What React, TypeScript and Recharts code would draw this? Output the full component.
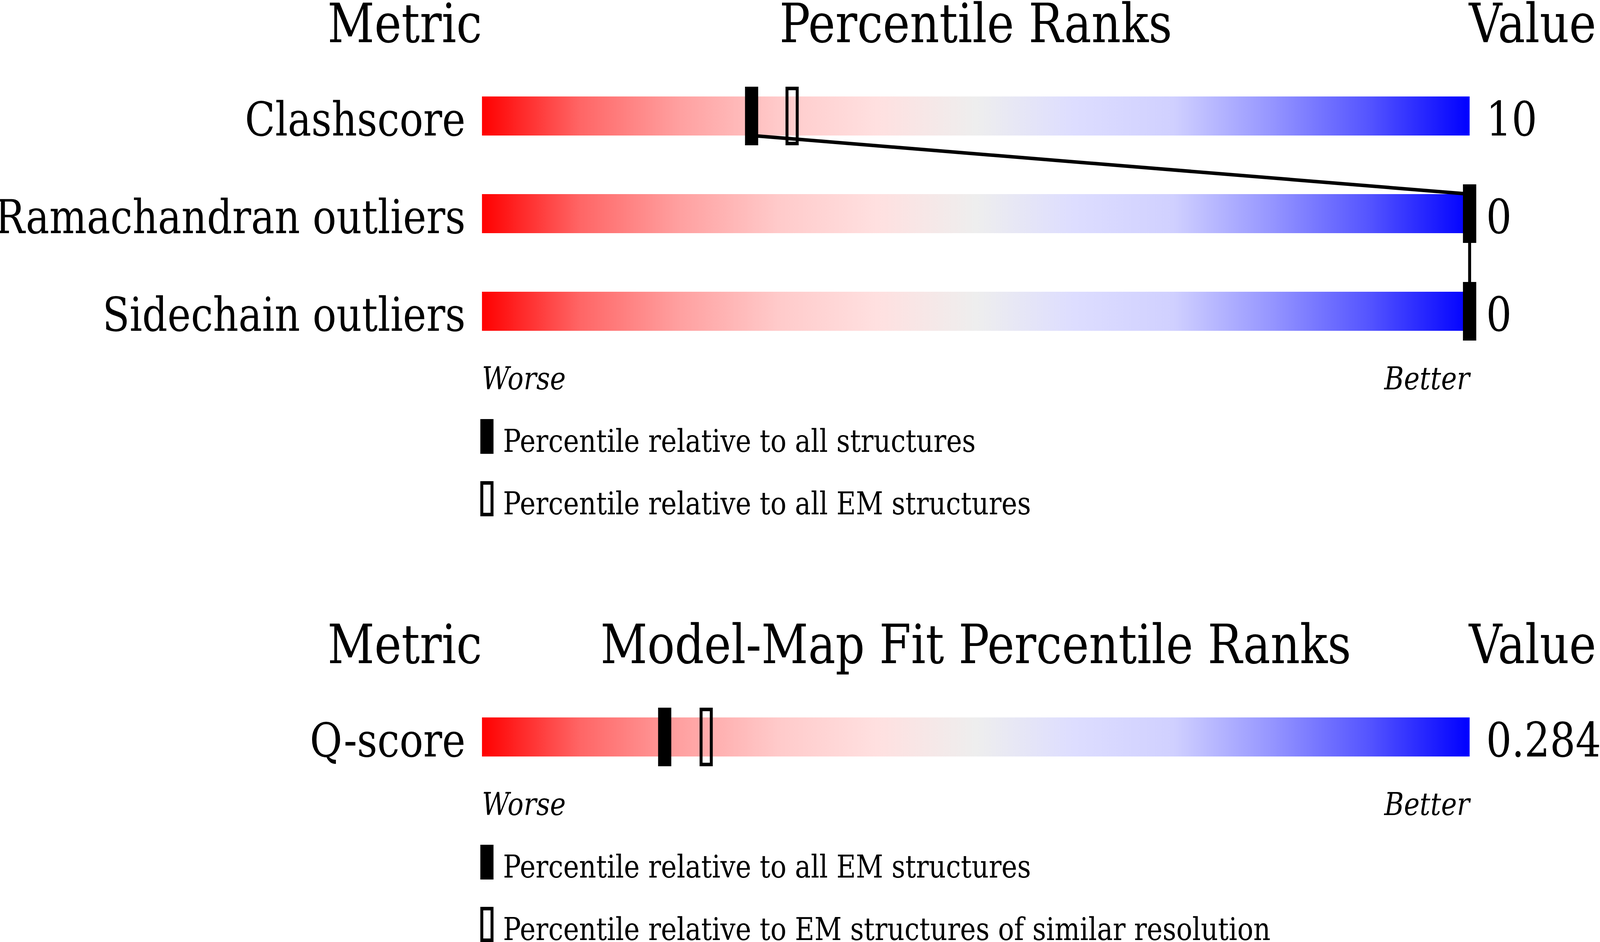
import React from "react";
import { ScatterChart, Scatter, XAxis, YAxis, ReferenceArea, ReferenceLine, Legend } from "recharts";

// geometry panel
const geometryMetrics = ["Clashscore", "Ramachandran outliers", "Sidechain outliers"];
const geometryValues = ["10", "0", "0"];
const geometryAllPct = [27.3, 100, 100];
const geometryEmPct = [31.4, 100, 100];
const geometryLegend = ["Percentile relative to all structures", "Percentile relative to all EM structures"];

// model-map fit panel
const fitMetrics = ["Q-score"];
const fitValues = ["0.284"];
const fitEmPct = [18.5];
const fitResPct = [22.7];
const fitLegend = ["Percentile relative to all EM structures", "Percentile relative to EM structures of similar resolution"];

const axisTicks = [0, 100];
const axisTickLabels = ["Worse", "Better"];

const FONT = "DejaVu Serif";
const ROW_PX = 250;
const FULL_W = 4860;
const FULL_H = 2412;

const gradientStops: [number, string][] = [
  [0, "#FF0000"],
  [0.1, "#FF6666"],
  [0.2, "#FFA0A0"],
  [0.3, "#FFCACA"],
  [0.4, "#FFE0E0"],
  [0.5, "#EEEEEE"],
  [0.6, "#DDDDFF"],
  [0.7, "#D0D0FF"],
  [0.8, "#9595FF"],
  [0.9, "#5353FF"],
  [1, "#0000FF"],
];

const FilledMarker = (props: any) => (
  <rect x={props.cx - 20} y={props.cy - 75} width={40} height={150} fill="#000" />
);

const HollowMarker = (props: any) => (
  <rect x={props.cx - 15.5} y={props.cy - 70.5} width={31} height={141} fill="none" stroke="#000" strokeWidth={9} />
);

interface PanelProps {
  id: string;
  title: string;
  metrics: string[];
  values: string[];
  filled: number[];
  hollow: number[];
  legend: string[];
  height: number;
  plotTop: number;
}

const Panel = ({ id, title, metrics, values, filled, hollow, legend, height, plotTop }: PanelProps) => {
  const rows = metrics.length;
  const plotBottom = plotTop + rows * ROW_PX;
  const rowTicks = metrics.map((_, i) => i + 0.5);
  const filledData = metrics.map((m, i) => ({ metric: m, pct: filled[i], row: i + 0.5 }));
  const hollowData = metrics.map((m, i) => ({ metric: m, pct: hollow[i], row: i + 0.5 }));

  const LeftTick = ({ x, y, payload }: any) => (
    <text x={x} y={y + 50} textAnchor="end" fontFamily={FONT} fontSize={120} fill="#000">
      {metrics[Math.floor(payload.value)]}
    </text>
  );
  const RightTick = ({ x, y, payload }: any) => (
    <text x={x} y={y + 50} textAnchor="start" fontFamily={FONT} fontSize={122} fill="#000">
      {values[Math.floor(payload.value)]}
    </text>
  );
  const BottomTick = ({ x, y, payload }: any) => (
    <text
      x={x}
      y={y + 75}
      textAnchor={payload.value === 0 ? "start" : "end"}
      fontFamily={FONT}
      fontStyle="italic"
      fontSize={81}
      fill="#000"
    >
      {axisTickLabels[axisTicks.indexOf(payload.value)]}
    </text>
  );

  const legendContent = () => (
    <svg width={1800} height={272} style={{ overflow: "visible", display: "block" }}>
      <rect x={9} y={23} width={40} height={89} fill="#000" />
      <text x={78} y={107} fontFamily={FONT} fontSize={81} fill="#000">{legend[0]}</text>
      <rect x={13.5} y={186.5} width={31} height={81} fill="none" stroke="#000" strokeWidth={9} />
      <text x={78} y={267} fontFamily={FONT} fontSize={81} fill="#000">{legend[1]}</text>
    </svg>
  );

  return (
    <ScatterChart
      width={FULL_W}
      height={height}
      margin={{ top: plotTop, right: 0, bottom: height - plotBottom - 1, left: 0 }}
    >
      <defs>
        <linearGradient id={`grad-${id}`} x1="0" y1="0" x2="1" y2="0">
          {gradientStops.map(([o, c]) => (
            <stop key={o} offset={o} stopColor={c} />
          ))}
        </linearGradient>
      </defs>
      <text x={1464} y={plotTop - 64} textAnchor="end" fontFamily={FONT} fontSize={139} fill="#000">Metric</text>
      <text x={2964} y={plotTop - 64} textAnchor="middle" fontFamily={FONT} fontSize={139} fill="#000">{title}</text>
      <text x={4462} y={plotTop - 64} textAnchor="start" fontFamily={FONT} fontSize={139} fill="#000">Value</text>

      <XAxis
        type="number"
        dataKey="pct"
        domain={[0, 100]}
        ticks={axisTicks}
        interval={0}
        height={1}
        axisLine={false}
        tickLine={false}
        tickSize={0}
        tickMargin={0}
        tick={<BottomTick />}
      />
      <YAxis
        type="number"
        dataKey="row"
        domain={[0, rows]}
        reversed
        ticks={rowTicks}
        interval={0}
        width={1464}
        axisLine={false}
        tickLine={false}
        tickSize={0}
        tickMargin={50}
        tick={<LeftTick />}
      />
      <YAxis
        yAxisId="right"
        orientation="right"
        type="number"
        dataKey="row"
        domain={[0, rows]}
        reversed
        ticks={rowTicks}
        interval={0}
        width={396}
        axisLine={false}
        tickLine={false}
        tickSize={0}
        tickMargin={50}
        tick={<RightTick />}
      />

      {metrics.map((m, i) => (
        <ReferenceArea
          key={m}
          x1={0}
          x2={100}
          y1={i + 0.3}
          y2={i + 0.7}
          fill={`url(#grad-${id})`}
          fillOpacity={1}
          stroke="none"
        />
      ))}
      {metrics.slice(1).map((m, i) => (
        <ReferenceLine
          key={`link-${m}`}
          segment={[
            { x: filled[i], y: i + 0.7 },
            { x: filled[i + 1], y: i + 1.3 },
          ]}
          stroke="#000"
          strokeWidth={9}
        />
      ))}

      <Scatter name={legend[1]} data={hollowData} shape={HollowMarker} isAnimationActive={false} />
      <Scatter
        name={legend[0]}
        data={filledData}
        yAxisId="right"
        shape={FilledMarker}
        isAnimationActive={false}
      />

      <Legend
        layout="vertical"
        align="center"
        verticalAlign="middle"
        content={legendContent}
        wrapperStyle={{ left: 1450, top: plotBottom + 128, width: 1800, height: 272 }}
      />
    </ScatterChart>
  );
};

const App = () => {
  // the browser viewport can be narrower than the reference; fit the width to it
  const kx = typeof window !== "undefined" ? Math.min(1, window.innerWidth / FULL_W) : 1;
  return (
    <div
      style={{
        position: "absolute",
        left: 0,
        top: 0,
        width: FULL_W,
        height: FULL_H,
        background: "#fff",
        transform: `scaleX(${kx})`,
        transformOrigin: "0 0",
        overflow: "hidden",
      }}
    >
      <div style={{ position: "absolute", left: 0, top: 0 }}>
        <Panel
          id="geo"
          title="Percentile Ranks"
          metrics={geometryMetrics}
          values={geometryValues}
          filled={geometryAllPct}
          hollow={geometryEmPct}
          legend={geometryLegend}
          height={1400}
          plotTop={172}
        />
      </div>
      <div style={{ position: "absolute", left: 0, top: 1400 }}>
        <Panel
          id="fit"
          title="Model-Map Fit Percentile Ranks"
          metrics={fitMetrics}
          values={fitValues}
          filled={fitEmPct}
          hollow={fitResPct}
          legend={fitLegend}
          height={1012}
          plotTop={362}
        />
      </div>
    </div>
  );
};

export default App;
